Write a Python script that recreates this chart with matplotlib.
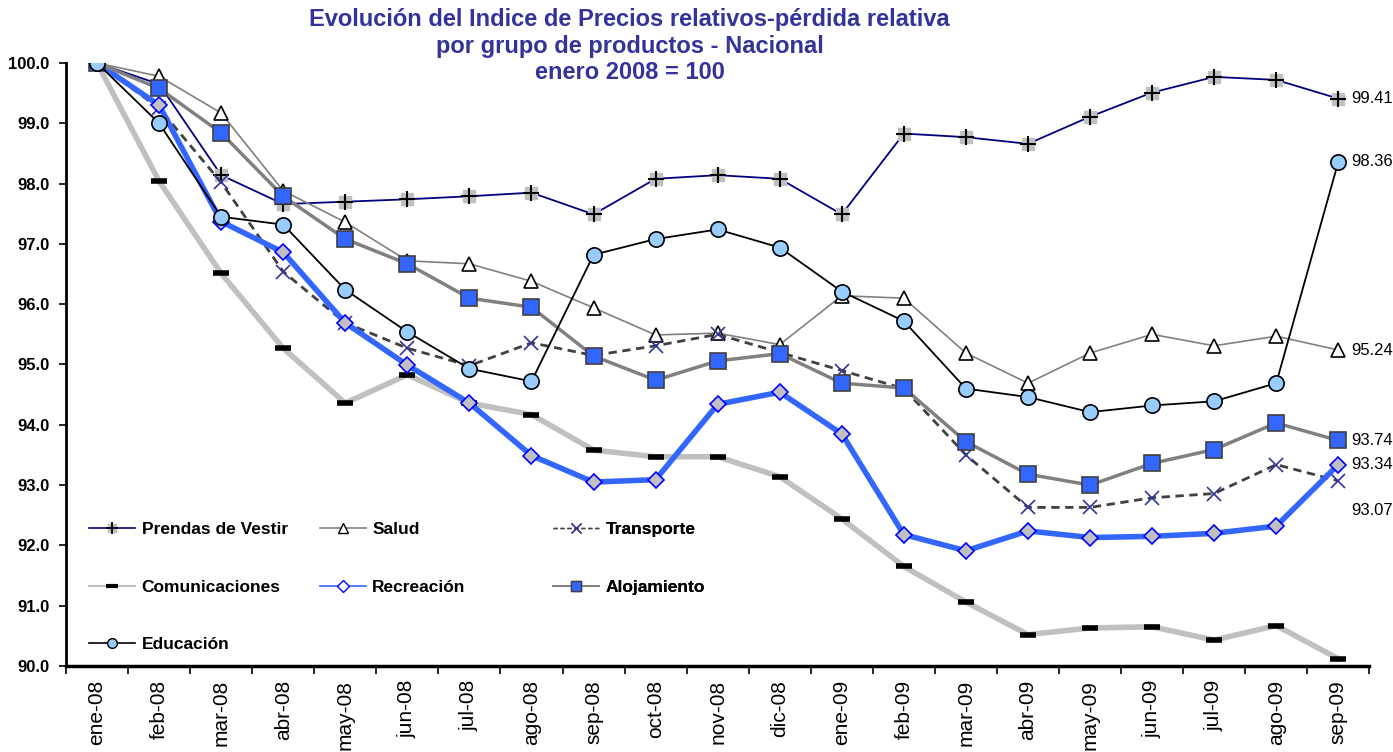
import matplotlib
matplotlib.use("Agg")
import matplotlib.pyplot as plt
from matplotlib.lines import Line2D

plt.rcParams['font.family'] = ['Liberation Sans', 'DejaVu Sans']

meses = ["ene-08", "feb-08", "mar-08", "abr-08", "may-08", "jun-08", "jul-08",
         "ago-08", "sep-08", "oct-08", "nov-08", "dic-08", "ene-09", "feb-09",
         "mar-09", "abr-09", "may-09", "jun-09", "jul-09", "ago-09", "sep-09"]

prendas = [100.0, 99.65, 98.14, 97.66, 97.70, 97.74, 97.79, 97.85, 97.49, 98.08, 98.14,
           98.08, 97.49, 98.83, 98.77, 98.66, 99.11, 99.51, 99.77, 99.72, 99.41]
salud = [100.0, 99.78, 99.17, 97.88, 97.36, 96.72, 96.67, 96.38, 95.94, 95.49, 95.52,
         95.33, 96.14, 96.10, 95.19, 94.69, 95.19, 95.50, 95.31, 95.47, 95.24]
transporte = [100.0, 99.25, 98.02, 96.54, 95.69, 95.27, 94.98, 95.36, 95.15, 95.31, 95.50,
              95.20, 94.90, 94.60, 93.50, 92.63, 92.63, 92.79, 92.86, 93.34, 93.07]
comunicaciones = [100.0, 98.04, 96.51, 95.27, 94.36, 94.83, 94.36, 94.17, 93.58, 93.47, 93.47,
                  93.14, 92.44, 91.65, 91.06, 90.52, 90.63, 90.65, 90.43, 90.67, 90.12]
recreacion = [100.0, 99.30, 97.37, 96.86, 95.69, 94.99, 94.36, 93.49, 93.05, 93.09, 94.34,
              94.54, 93.85, 92.18, 91.91, 92.24, 92.13, 92.15, 92.20, 92.32, 93.34]
alojamiento = [100.0, 99.58, 98.84, 97.79, 97.08, 96.67, 96.10, 95.95, 95.14, 94.74, 95.06,
               95.18, 94.69, 94.61, 93.72, 93.18, 93.00, 93.36, 93.59, 94.03, 93.74]
educacion = [100.0, 99.00, 97.45, 97.32, 96.24, 95.54, 94.93, 94.72, 96.82, 97.08, 97.24,
             96.94, 96.21, 95.72, 94.60, 94.46, 94.21, 94.32, 94.39, 94.69, 98.36]

x = list(range(len(meses)))

fig = plt.figure(figsize=(13.93, 7.52), dpi=100)
ax = fig.add_axes([0.0474, 0.1144, 0.9356, 0.8018])

# series
ax.plot(x, prendas, color='#000080', lw=1.3, marker='s', ms=9,
        mfc='#C0C0C0', mec='#C0C0C0', zorder=3)
ax.plot(x, prendas, ls='none', marker='+', ms=11, mew=1.5, color='black', zorder=3)
ax.plot(x, salud, color='#808080', lw=1.2, marker='^', ms=10,
        mfc='white', mec='black', mew=1.2, zorder=3)
ax.plot(x, transporte, color='#404040', lw=2, ls=(0, (3, 2)), marker='x', ms=10,
        mec='#333399', mew=1.2, zorder=3)
ax.plot(x, comunicaciones, color='#C0C0C0', lw=4, marker='_', ms=12,
        mec='black', mew=4, zorder=3)
ax.plot(x, recreacion, color='#3366FF', lw=4, marker='D', ms=8,
        mfc='#C0C0C0', mec='#0000FF', mew=1.2, zorder=4)
ax.plot(x, alojamiento, color='#808080', lw=2.5, marker='s', ms=11,
        mfc='#3366FF', mec='#404040', mew=1.2, zorder=4)
ax.plot(x, educacion, color='black', lw=1.3, marker='o', ms=11,
        mfc='#99CCFF', mec='black', mew=1.2, zorder=5)

# thin legend handles (like the Excel legend)
h_pr = (Line2D([], [], color='#000080', lw=1.2, marker='s', ms=6, mfc='#C0C0C0', mec='#C0C0C0'),
        Line2D([], [], ls='none', marker='+', ms=8, mew=1.3, color='black'))
h_sa = Line2D([], [], color='#808080', lw=1.2, marker='^', ms=7, mfc='white', mec='black')
h_tr = Line2D([], [], color='#404040', lw=1.0, ls=(0, (3, 2)), marker='x', ms=7, mec='#333399')
h_co = Line2D([], [], color='#C0C0C0', lw=1.5, marker='_', ms=8, mec='black', mew=3)
h_re = Line2D([], [], color='#3366FF', lw=1.2, marker='D', ms=6, mfc='white', mec='#0000FF')
h_al = Line2D([], [], color='#808080', lw=1.2, marker='s', ms=7, mfc='#3366FF', mec='#404040')
h_ed = Line2D([], [], color='black', lw=1.2, marker='o', ms=7, mfc='#99CCFF', mec='black')

# end labels
finales = [(prendas[-1], 0), (educacion[-1], 0), (salud[-1], 0),
           (alojamiento[-1], 0), (recreacion[-1], 0), (transporte[-1], -21)]
for val, dy in finales:
    ax.annotate(f"{val:.2f}", (x[-1], val), xytext=(9, dy), textcoords='offset points',
                fontsize=12, va='center', ha='left', annotation_clip=False)

ax.set_xlim(-0.5, len(meses) - 0.5)
ax.set_ylim(90, 100)
ax.set_yticks([90, 91, 92, 93, 94, 95, 96, 97, 98, 99, 100])
ax.set_yticklabels([f"{v:.1f}" for v in range(90, 101)], fontsize=12, fontweight='bold')
ax.set_xticks(x)
ax.set_xticklabels(meses, rotation=90, fontsize=15)
ax.set_xticks([i - 0.5 for i in range(len(meses) + 1)], minor=True)
ax.tick_params(axis='x', which='major', length=0, pad=10)
ax.tick_params(axis='x', which='minor', length=6, width=1.2, direction='out')
ax.tick_params(axis='y', length=5, width=1.2, direction='out', pad=7)
ax.spines['top'].set_visible(False)
ax.spines['right'].set_visible(False)
ax.spines['left'].set_linewidth(2)
ax.spines['bottom'].set_linewidth(2.5)

fig.text(0.452, 0.989, "Evolución del Indice de Precios relativos-pérdida relativa\n"
         "por grupo de productos - Nacional\nenero 2008 = 100",
         ha='center', va='top', fontsize=17, fontweight='bold', color='#333399',
         linespacing=1.2)

# legend in three columns
cols = [
    ([h_pr, h_co, h_ed], ["Prendas de Vestir", "Comunicaciones", "Educación"], 0.006),
    ([h_sa, h_re], ["Salud", "Recreación"], 0.183),
    ([h_tr, h_al], ["Transporte", "Alojamiento"], 0.362),
]
for hs, labs, xpos in cols:
    leg = ax.legend(hs, labs, loc='upper left', bbox_to_anchor=(xpos, 0.265),
                    frameon=False, handlelength=2.65, handletextpad=0.35,
                    labelspacing=2.45, prop={'weight': 'bold', 'size': 12.5})
    ax.add_artist(leg)

fig.savefig("out.png", dpi=100)
